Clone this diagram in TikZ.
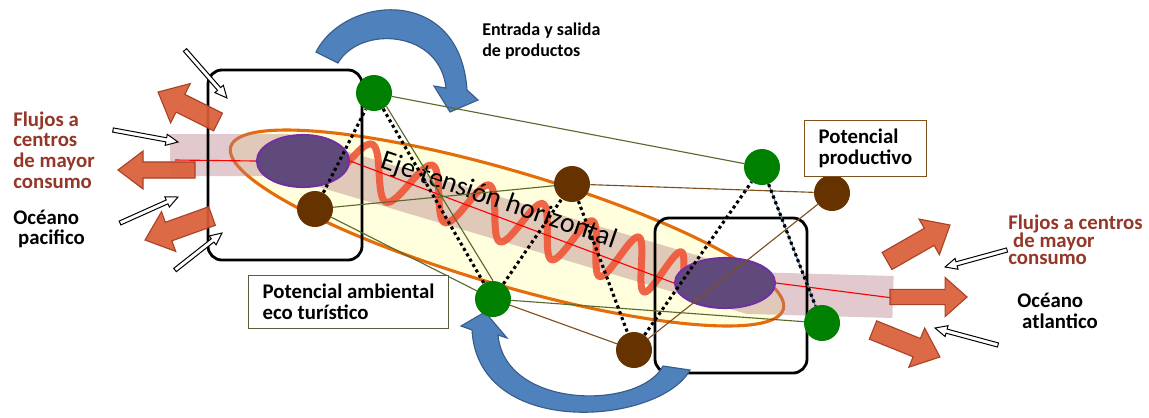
\documentclass[tikz,border=0pt]{standalone}
\usepackage{fontspec}
\setmainfont{Carlito}
\usetikzlibrary{calc,shapes.geometric}
\setlength{\lineskiplimit}{-10pt}
\definecolor{flujo}{RGB}{218,94,56}
\definecolor{flujoborde}{RGB}{170,66,40}
\definecolor{flujotexto}{RGB}{148,54,40}
\definecolor{verde}{RGB}{0,128,0}
\definecolor{cafe}{RGB}{102,51,0}
\definecolor{naranja}{RGB}{228,108,10}
\definecolor{crema}{RGB}{255,255,222}
\definecolor{franja}{RGB}{180,120,130}
\definecolor{morado}{RGB}{96,74,123}
\definecolor{moradoborde}{RGB}{112,48,160}
\definecolor{onda}{RGB}{240,85,55}
\definecolor{azul}{RGB}{79,129,189}
\definecolor{azulborde}{RGB}{56,93,138}
\definecolor{oliva}{RGB}{90,105,45}
\definecolor{cafelinea}{RGB}{125,80,30}
\definecolor{acero}{RGB}{80,120,170}
\definecolor{grisoliva}{RGB}{85,95,60}
% block arrow: style, tail, tip, shaft half width, head half width, head length
\newcommand\bloque[6][]{%
  \draw[#1] let \p1=($(#3)-(#2)$), \n1={atan2(\y1,\x1)}, \n2={veclen(\x1,\y1)} in
    [shift={(#2)}, rotate=\n1] (0pt,-#4) -- ({\n2-#6},-#4) -- ({\n2-#6},-#5) -- (\n2,0pt)
    -- ({\n2-#6},#5) -- ({\n2-#6},#4) -- (0pt,#4) -- cycle;}

\begin{document}
\begin{tikzpicture}[x=0.025cm, y=-0.025cm,
    zona/.style={draw=black, line width=2pt, rounded corners=10pt, inner sep=0pt},
    nodoverde/.style={circle, fill=verde, minimum size=0.9cm, inner sep=0pt},
    nodocafe/.style={circle, fill=cafe, minimum size=0.9cm, inner sep=0pt},
    polo/.style={ellipse, fill=morado, draw=moradoborde, line width=1.5pt, inner sep=0pt},
    enlace/.style={line width=0.8pt},
    punteado/.style={line width=2.2pt, dash pattern=on 2.2pt off 2.2pt},
    flujo/.style={fill=flujo, draw=flujoborde, line width=0.8pt, fill opacity=0.92},
    hueco/.style={fill=white, draw=black, line width=0.7pt},
    giro/.style={fill=azul, draw=azulborde, line width=0.8pt},
    rotulo/.style={font=\bfseries\fontsize{14.8}{14.7}\selectfont, align=left, inner sep=0pt},
    recuadro/.style={fill=white, line width=0.9pt, align=left, inner xsep=0.35cm, inner ysep=0pt,
      font=\bfseries\fontsize{14.8}{15}\selectfont}]
  \fill[white] (0,0) rectangle (1149,417);
  \useasboundingbox (0,0) rectangle (1149,417);

  \draw[naranja, fill=crema, line width=2.2pt, rotate around={-16.4:(507,228)}]
    (507,228) ellipse [x radius=288, y radius=57];
  \draw[franja, opacity=0.4, line width=1.05cm] (170,155) -- (285,155) -- (750,293) -- (893,297);
  \begin{scope}[shift={(324,154)}, rotate=-19.2]
    \draw[onda, line width=5pt, line cap=round, opacity=0.9]
      plot[domain=-0.75:6.3, samples=300, variable=\k] ({42+66*\k-1.9*\k*\k}, {-25*cos(360*\k)});
  \end{scope}
  \node[rotate=-19, font=\fontsize{20}{22}\selectfont] (eje) at (499,201) {Eje tensión horizontal};

  \node[polo, minimum width=2.3cm, minimum height=1.3cm] (lhub) at (303,161) {};
  \node[polo, minimum width=2.5cm, minimum height=1.25cm] (rhub) at (725,283) {};
  \coordinate (axw) at (175,160);
  \coordinate (axe) at (893,298);
  \draw[red, line width=0.8pt] (axw) -- (lhub.west) (lhub.east) -- (rhub.west) (rhub.east) -- (axe);

  \node[zona, minimum width=3.85cm, minimum height=4.75cm] (lzona) at (285,165) {};
  \node[zona, minimum width=3.8cm, minimum height=3.875cm] (rzona) at (731,295.5) {};

  \draw[giro] (316,52) .. controls (345,-5) and (460,-15) .. (467,90) -- (478,100) -- (450,112)
    -- (434,86) -- (446,88) .. controls (440,30) and (360,25) .. (338,63) -- cycle;
  \draw[giro] (663,366) -- (690,370) .. controls (660,425) and (478,440) .. (472,330) -- (461,326)
    -- (485,312) -- (507,338) -- (498,335) .. controls (505,410) and (640,410) .. (663,366) -- cycle;

  \node[nodoverde] (g1) at (374,93) {};
  \node[nodocafe] (b1) at (315,209) {};
  \node[nodocafe] (b2) at (572,184) {};
  \node[nodoverde] (g2) at (493,299) {};
  \node[nodocafe] (b3) at (634,350) {};
  \node[nodoverde] (g3) at (762,167) {};
  \node[nodocafe] (b4) at (832,193) {};
  \node[nodoverde] (g4) at (822,323) {};

  \draw[enlace, oliva] (g1) -- (g3) (g1.-47) -- (g2.north) (b1) -- (b2) (b1) -- (g2) (g2) -- (g4);
  \draw[enlace, cafelinea] (b2) -- (b4) (g2) -- (b3) (b3) -- (b4);
  \draw[enlace, acero] (g3) -- (g4);
  \draw[punteado] (b1) -- (g1) -- (g2) (g2) -- (b2) -- (b3) -- (g3) -- (g4);

  \coordinate (fl1a) at (218,122); \coordinate (fl1b) at (158,92);
  \coordinate (fl2a) at (195,170); \coordinate (fl2b) at (118,170);
  \coordinate (fl3a) at (212,216); \coordinate (fl3b) at (145,240);
  \coordinate (fr1a) at (887,261); \coordinate (fr1b) at (950,225);
  \coordinate (fr2a) at (890,297); \coordinate (fr2b) at (967,297);
  \coordinate (fr3a) at (873,330); \coordinate (fr3b) at (940,357);
  \bloque[flujo]{fl1a}{fl1b}{7pt}{15.6pt}{17.8pt}
  \bloque[flujo]{fl2a}{fl2b}{5.7pt}{13.5pt}{17.8pt}
  \bloque[flujo]{fl3a}{fl3b}{7pt}{15pt}{17.8pt}
  \bloque[flujo]{fr1a}{fr1b}{7pt}{14.6pt}{17pt}
  \bloque[flujo]{fr2a}{fr2b}{5.4pt}{13.9pt}{15.6pt}
  \bloque[flujo]{fr3a}{fr3b}{7pt}{15pt}{17.8pt}

  \coordinate (hl1a) at (185,50);  \coordinate (hl1b) at (227,98);
  \coordinate (hl2a) at (113,130); \coordinate (hl2b) at (178,142);
  \coordinate (hl3a) at (120,223); \coordinate (hl3b) at (178,197);
  \coordinate (hl4a) at (175,270); \coordinate (hl4b) at (222,233);
  \coordinate (hr1a) at (1007,250); \coordinate (hr1b) at (945,267);
  \coordinate (hr2a) at (998,345); \coordinate (hr2b) at (935,328);
  \bloque[hueco]{hl1a}{hl1b}{1.5pt}{4pt}{8.5pt}
  \bloque[hueco]{hl2a}{hl2b}{1.5pt}{4pt}{8.5pt}
  \bloque[hueco]{hl3a}{hl3b}{1.5pt}{4pt}{8.5pt}
  \bloque[hueco]{hl4a}{hl4b}{1.5pt}{4pt}{8.5pt}
  \bloque[hueco]{hr1a}{hr1b}{1.5pt}{4pt}{8.5pt}
  \bloque[hueco]{hr2a}{hr2b}{1.5pt}{4pt}{8.5pt}

  \node[rotulo, text=flujotexto, anchor=west] (flujoiz) at (13,150) {Flujos a\\centros\\de mayor\\consumo};
  \node[rotulo, anchor=west] (pacifico) at (13,229) {Océano\\\hspace*{3.5pt}pacifico};
  \node[rotulo, text=flujotexto, anchor=west, font=\bfseries\fontsize{14.8}{12.6}\selectfont]
    (flujode) at (1008,240) {Flujos a centros\\\hspace*{3.5pt}de mayor\\consumo};
  \node[rotulo, anchor=west] (atlantico) at (1017,311) {Océano\\\hspace*{3.5pt}atlantico};
  \node[rotulo, anchor=west, font=\bfseries\fontsize{12.8}{14.4}\selectfont] (entrada)
    at (482,41) {Entrada y salida\\de productos};
  \node[recuadro, draw=grisoliva, anchor=north west, minimum width=4.975cm, minimum height=1.325cm]
    (ambiental) at (248,275) {Potencial ambiental\\eco turístico};
  \node[recuadro, draw=cafelinea, anchor=north west, minimum width=3cm, minimum height=1.4cm]
    (productivo) at (804,120) {Potencial\\productivo};
\end{tikzpicture}
\end{document}
